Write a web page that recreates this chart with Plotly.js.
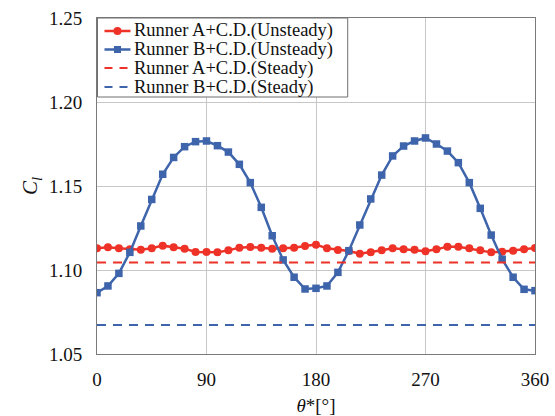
<!DOCTYPE html>
<html>
<head>
<meta charset="utf-8">
<script src="https://cdn.plot.ly/plotly-3.0.1.min.js"></script>
<style>html,body{margin:0;padding:0;background:#fff;}#chart{width:555px;height:416px;}</style>
</head>
<body>
<div id="chart"></div>
<script>
const theta = [0,9,18,27,36,45,54,63,72,81,90,99,108,117,126,135,144,153,162,171,180,189,198,207,216,225,234,243,252,261,270,279,288,297,306,315,324,333,342,351,360];
const runnerA_unsteady = [1.1129,1.1135,1.1129,1.1123,1.1121,1.1129,1.1145,1.1135,1.1127,1.1107,1.1107,1.1105,1.1117,1.1133,1.1137,1.1133,1.1127,1.1129,1.1133,1.1143,1.1151,1.1129,1.1119,1.1113,1.1097,1.1105,1.1117,1.1129,1.1123,1.1121,1.1111,1.1123,1.1139,1.1139,1.1129,1.1117,1.1105,1.1109,1.1115,1.1123,1.1131];
const runnerB_unsteady = [1.0865,1.0905,1.0980,1.1105,1.1262,1.1420,1.1570,1.1670,1.1734,1.1764,1.1768,1.1740,1.1702,1.1629,1.1520,1.1373,1.1204,1.1060,1.0957,1.0887,1.0891,1.0905,1.0986,1.1115,1.1268,1.1423,1.1565,1.1679,1.1738,1.1768,1.1786,1.1750,1.1708,1.1639,1.1520,1.1367,1.1208,1.1064,1.0957,1.0885,1.0877];
const steadyX = [0, 360];
const runnerA_steady = [1.1044, 1.1044];
const runnerB_steady = [1.0672, 1.0672];
const seriesNames = ['Runner A+C.D.(Unsteady)','Runner B+C.D.(Unsteady)','Runner A+C.D.(Steady)','Runner B+C.D.(Steady)'];
const xTicks = [0,90,180,270,360];
const yTicks = [1.05,1.10,1.15,1.20,1.25];

const red = '#ee3227', blue = '#3e64ab';
const font = "Liberation Serif, Times New Roman, DejaVu Serif, serif";

const traces = [
  {x: theta, y: runnerA_unsteady, name: seriesNames[0], type: 'scatter', mode: 'lines+markers',
   line: {color: red, width: 2.5}, marker: {symbol: 'circle', size: 8, color: red}},
  {x: theta, y: runnerB_unsteady, name: seriesNames[1], type: 'scatter', mode: 'lines+markers',
   line: {color: blue, width: 2.5}, marker: {symbol: 'square', size: 7.5, color: blue}},
  {x: steadyX, y: runnerA_steady, name: seriesNames[2], type: 'scatter', mode: 'lines',
   line: {color: red, width: 2, dash: '9px,7px'}},
  {x: steadyX, y: runnerB_steady, name: seriesNames[3], type: 'scatter', mode: 'lines',
   line: {color: blue, width: 2, dash: '9px,7px'}}
];

const PL = 96.5, PR = 535, PT = 18, PB = 354;
const px = v => (v - PL) / (PR - PL);
const py = v => (PB - v) / (PB - PT);
const rowY = [31, 49.5, 68, 87];
const colors = [red, blue, red, blue];
const shapes = [
  {type: 'rect', xref: 'paper', yref: 'paper', x0: px(97), x1: px(347.5), y0: py(18), y1: py(97),
   line: {color: '#6f6f6f', width: 1}, fillcolor: '#fff', layer: 'above'}
];
const annotations = [];
seriesNames.forEach((n, i) => {
  const yy = py(rowY[i]);
  if (i < 2) {
    shapes.push({type: 'line', xref: 'paper', yref: 'paper', x0: px(104), x1: px(130), y0: yy, y1: yy,
      line: {color: colors[i], width: 2.5}, layer: 'above'});
    if (i === 0) {
      shapes.push({type: 'circle', xref: 'paper', yref: 'paper', x0: px(113), x1: px(121), y0: py(rowY[i] + 4), y1: py(rowY[i] - 4),
        line: {color: red, width: 0}, fillcolor: red, layer: 'above'});
    } else {
      shapes.push({type: 'rect', xref: 'paper', yref: 'paper', x0: px(113.5), x1: px(120.5), y0: py(rowY[i] + 3.5), y1: py(rowY[i] - 3.5),
        line: {color: blue, width: 0}, fillcolor: blue, layer: 'above'});
    }
  } else {
    shapes.push({type: 'line', xref: 'paper', yref: 'paper', x0: px(104), x1: px(130), y0: yy, y1: yy,
      line: {color: colors[i], width: 2, dash: '8px,7px'}, layer: 'above'});
  }
  annotations.push({xref: 'paper', yref: 'paper', x: px(132), y: yy, xanchor: 'left', yanchor: 'middle',
    text: n, showarrow: false, font: {family: font, size: 18.5, color: '#111'}});
});

const layout = {
  width: 555, height: 416,
  margin: {l: PL, r: 555 - PR, t: PT, b: 416 - PB},
  paper_bgcolor: '#fff', plot_bgcolor: '#fff',
  font: {family: font, size: 18, color: '#111'},
  showlegend: false,
  shapes: shapes,
  annotations: annotations,
  xaxis: {range: [0, 360], tickvals: xTicks, ticktext: xTicks.map(String),
    showgrid: true, gridcolor: '#c9c6c6', gridwidth: 1,
    showline: true, linecolor: '#7a7a7a', linewidth: 1, mirror: true,
    ticks: 'outside', ticklen: 8, tickcolor: 'rgba(0,0,0,0)', zeroline: false,
    tickfont: {family: font, size: 19},
    title: {text: '<i>θ</i>*[°]', font: {family: font, size: 19}, standoff: 12}},
  yaxis: {range: [1.05, 1.25], tickvals: yTicks, ticktext: yTicks.map(v => v.toFixed(2)),
    showgrid: true, gridcolor: '#c9c6c6', gridwidth: 1,
    showline: true, linecolor: '#7a7a7a', linewidth: 1, mirror: true,
    ticks: 'outside', ticklen: 10, tickcolor: 'rgba(0,0,0,0)', zeroline: false,
    tickfont: {family: font, size: 19},
    title: {text: '<i>C</i><sub><i>l</i></sub>', font: {family: font, size: 21}, standoff: 5}}
};

Plotly.newPlot('chart', traces, layout, {staticPlot: true, displayModeBar: false});
</script>
</body>
</html>
